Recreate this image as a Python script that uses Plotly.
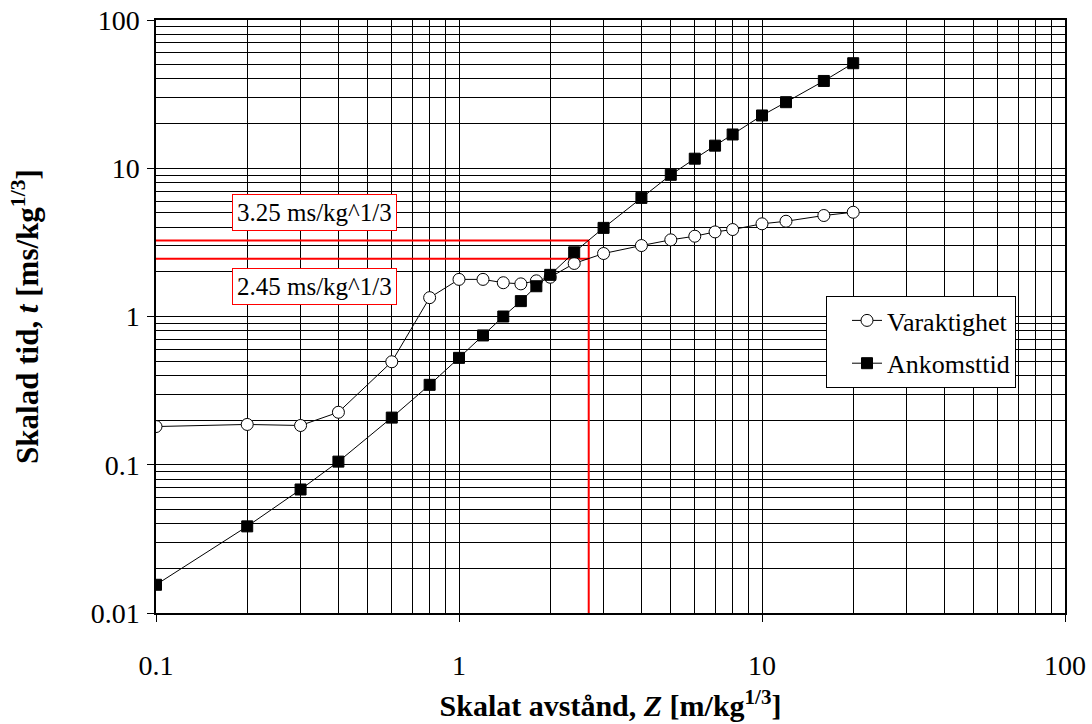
import plotly.graph_objects as go

# Varaktighet (duration), open circles
z_var = [0.1, 0.2, 0.3, 0.4, 0.6, 0.8, 1.0, 1.2, 1.4, 1.6, 1.8, 2.0, 2.4, 3, 4, 5, 6, 7, 8, 10, 12, 16, 20]
t_var = [0.181, 0.187, 0.184, 0.226, 0.495, 1.34, 1.78, 1.78, 1.69, 1.66, 1.74, 1.84, 2.28, 2.66, 3.01, 3.29, 3.48, 3.72, 3.86, 4.22, 4.39, 4.80, 5.05]

# Ankomsttid (arrival time), filled squares
z_ank = [0.1, 0.2, 0.3, 0.4, 0.6, 0.8, 1.0, 1.2, 1.4, 1.6, 1.8, 2.0, 2.4, 3, 4, 5, 6, 7, 8, 10, 12, 16, 20]
t_ank = [0.0155, 0.0384, 0.0681, 0.105, 0.208, 0.346, 0.526, 0.745, 1.0, 1.27, 1.60, 1.91, 2.71, 3.96, 6.31, 9.03, 11.6, 14.2, 16.9, 22.7, 27.9, 38.8, 51.1]

# Red reference lines
z_mark = 2.68
t_upper = 3.25
t_lower = 2.45
label_upper = "3.25 ms/kg^1/3"
label_lower = "2.45 ms/kg^1/3"

x_min, x_max = 0.1, 100
y_min, y_max = 0.01, 100
x_ticks = [0.1, 1, 10, 100]
x_tick_text = ["0.1", "1", "10", "100"]
y_ticks = [0.01, 0.1, 1, 10, 100]
y_tick_text = ["0.01", "0.1", "1", "10", "100"]

FONT = "Liberation Serif"

fig = go.Figure()

red = dict(color="#ff0000", width=2)
fig.add_trace(go.Scatter(x=[x_min, z_mark], y=[t_upper, t_upper], mode="lines", line=red,
                         showlegend=False, hoverinfo="skip"))
fig.add_trace(go.Scatter(x=[x_min, z_mark], y=[t_lower, t_lower], mode="lines", line=red,
                         showlegend=False, hoverinfo="skip"))
fig.add_trace(go.Scatter(x=[z_mark, z_mark], y=[y_min, t_upper], mode="lines", line=red,
                         showlegend=False, hoverinfo="skip"))

fig.add_trace(go.Scatter(
    x=z_var, y=t_var, name="Varaktighet", mode="lines+markers", legendgroup="a",
    line=dict(color="black", width=1),
    marker=dict(symbol="circle", size=12, color="white", line=dict(color="black", width=1)),
))
fig.add_trace(go.Scatter(
    x=z_ank, y=t_ank, name="Ankomsttid", mode="lines+markers", legendgroup="b",
    line=dict(color="black", width=1),
    marker=dict(symbol="square", size=11, color="black", line=dict(color="black", width=1)),
))

axis_common = dict(
    type="log",
    showgrid=True, gridcolor="black", gridwidth=1,
    showline=True, linecolor="black", linewidth=1.5, mirror=True,
    ticks="outside", ticklen=7, tickcolor="black", tickwidth=1,
    tickfont=dict(family=FONT, size=28, color="black"),
    zeroline=False,
    minor=dict(dtick="D1", showgrid=True, gridcolor="black", gridwidth=1, ticks=""),
)

fig.update_xaxes(
    **axis_common,
    range=[-1, 2],
    tickvals=x_ticks, ticktext=x_tick_text,
    ticklabelstandoff=20,
    title=dict(text="<b>Skalat avstånd, <i>Z</i> [m/kg<sup>1/3</sup>]</b>",
               font=dict(family=FONT, size=30, color="black"), standoff=15),
)
fig.update_yaxes(
    **axis_common,
    range=[-2, 2],
    tickvals=y_ticks, ticktext=y_tick_text,
    ticklabelstandoff=2,
    title=dict(text="<b>Skalad tid, <i>t</i> [ms/kg<sup>1/3</sup>]</b>",
               font=dict(family=FONT, size=31, color="black"), standoff=43),
)

for txt, yp in [(label_upper, (613 - 213) / 593), (label_lower, (613 - 286) / 593)]:
    fig.add_annotation(
        text=txt, xref="paper", yref="paper", x=(314 - 156) / 909, y=yp,
        xanchor="center", yanchor="middle",
        showarrow=False, font=dict(family=FONT, size=25, color="black"),
        bgcolor="white", bordercolor="#ff0000", borderwidth=1, borderpad=4,
    )

fig.update_layout(
    width=1092, height=724,
    margin=dict(l=156, r=27, t=20, b=111, autoexpand=False),
    paper_bgcolor="white", plot_bgcolor="white",
    font=dict(family=FONT, color="black"),
    legend=dict(
        x=(826 - 156) / 909, y=(613 - 296) / 593, xanchor="left", yanchor="top",
        bgcolor="white", bordercolor="black", borderwidth=1,
        font=dict(family=FONT, size=26, color="black"),
        tracegroupgap=6, entrywidth=185, indentation=20,
    ),
)

fig.write_html("out.html", config={"displayModeBar": False},
               post_script="document.body.style.margin='0px';")
